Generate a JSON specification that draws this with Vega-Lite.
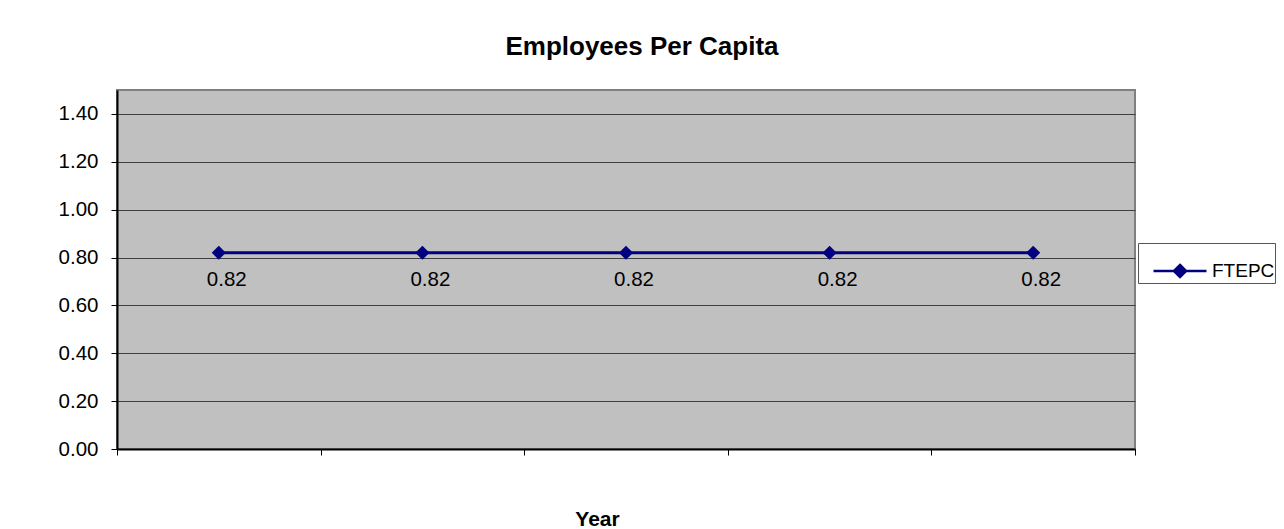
{
  "$schema": "https://vega.github.io/schema/vega-lite/v6.json",
  "width": 1018,
  "height": 359,
  "autosize": "none",
  "padding": {"left": 117, "top": 90, "right": 149, "bottom": 80},
  "background": "white",
  "title": {
    "text": "Employees Per Capita",
    "font": "Liberation Sans",
    "fontSize": 26,
    "fontWeight": "bold",
    "color": "black",
    "anchor": "middle",
    "dx": 16,
    "offset": 30
  },
  "data": {
    "values": [
      {"Year": "1", "FTEPC": 0.82, "Series": "FTEPC"},
      {"Year": "2", "FTEPC": 0.82, "Series": "FTEPC"},
      {"Year": "3", "FTEPC": 0.82, "Series": "FTEPC"},
      {"Year": "4", "FTEPC": 0.82, "Series": "FTEPC"},
      {"Year": "5", "FTEPC": 0.82, "Series": "FTEPC"}
    ]
  },
  "encoding": {
    "x": {
      "field": "Year",
      "type": "ordinal",
      "sort": null,
      "scale": {"type": "band", "paddingInner": 0, "paddingOuter": 0},
      "axis": {
        "labels": false,
        "tickBand": "extent",
        "ticks": true,
        "tickSize": 6,
        "tickColor": "black",
        "domainColor": "black",
        "domainWidth": 2,
        "grid": false,
        "title": "Year",
        "titleFont": "Liberation Sans",
        "titleFontSize": 21,
        "titleFontWeight": "bold",
        "titleColor": "black",
        "titleX": 480,
        "titleY": 76,
        "titleAlign": "center",
        "titleBaseline": "alphabetic"
      }
    },
    "y": {
      "field": "FTEPC",
      "type": "quantitative",
      "scale": {"domain": [0, 1.5], "nice": false},
      "axis": {
        "values": [0, 0.2, 0.4, 0.6, 0.8, 1.0, 1.2, 1.4],
        "format": ".2f",
        "title": null,
        "labelFont": "Liberation Sans",
        "labelFontSize": 20.5,
        "labelColor": "black",
        "labelPadding": 13,
        "tickSize": 6,
        "tickColor": "black",
        "domainColor": "black",
        "domainWidth": 2,
        "grid": true,
        "gridColor": "#404040",
        "gridWidth": 1
      }
    }
  },
  "layer": [
    {
      "mark": {
        "type": "line",
        "strokeWidth": 3,
        "point": {"shape": "diamond", "size": 200, "filled": true, "color": "#000080", "opacity": 1}
      },
      "encoding": {
        "color": {
          "field": "Series",
          "type": "nominal",
          "scale": {"range": ["#000080"]},
          "legend": {
            "orient": "none",
            "legendX": 1021,
            "legendY": 153,
            "title": null,
            "strokeColor": "#555555",
            "fillColor": "white",
            "padding": 0,
            "labelFont": "Liberation Sans",
            "labelFontSize": 19,
            "labelColor": "black",
            "symbolOffset": 14,
            "labelOffset": 4,
            "symbolType": "M-1,0L1,0M0,-0.23L0.23,0L0,0.23L-0.23,0Z",
            "symbolSize": 2809,
            "encode": {
              "symbols": {
                "update": {
                  "fill": {"value": "#000080"},
                  "stroke": {"value": "#000080"},
                  "strokeWidth": {"value": 2.5},
                  "opacity": {"value": 1}
                }
              }
            }
          }
        }
      }
    },
    {
      "mark": {
        "type": "text",
        "font": "Liberation Sans",
        "fontSize": 20.5,
        "color": "black",
        "dx": 8,
        "dy": 27,
        "baseline": "middle",
        "align": "center"
      },
      "encoding": {
        "text": {"field": "FTEPC", "type": "quantitative", "format": ".2f"}
      }
    }
  ],
  "config": {
    "view": {"fill": "#C0C0C0", "stroke": "#808080", "strokeWidth": 2}
  }
}
